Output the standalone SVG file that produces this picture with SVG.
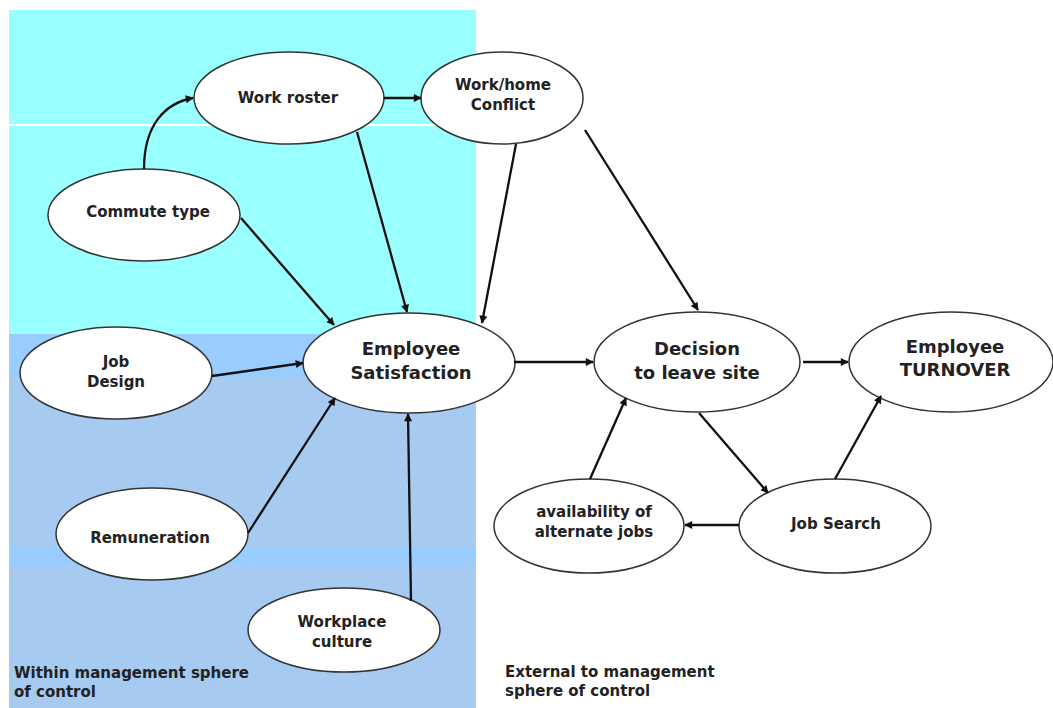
<svg xmlns="http://www.w3.org/2000/svg" width="1053" height="708" viewBox="0 0 1053 708">
<style>
.node ellipse{fill:#fff;stroke:#333;stroke-width:1.5}
.lbl{font-family:"DejaVu Sans",sans-serif;font-weight:bold;font-size:15px;fill:#222;text-anchor:middle}
.big{font-size:18px}
.note{font-family:"DejaVu Sans",sans-serif;font-weight:bold;font-size:15px;fill:#222}
#connectors path{fill:none;stroke:#111;stroke-width:2.3;marker-end:url(#arr)}
</style>
<defs>
<marker id="arr" viewBox="0 0 10 10" refX="9" refY="5" markerWidth="10" markerHeight="8" markerUnits="userSpaceOnUse" orient="auto">
<path d="M0,0 L10,5 L0,10 z" fill="#111"/>
</marker>
</defs>
<rect width="1053" height="708" fill="#fff"/>
<g id="background">
<rect x="9" y="10" width="467" height="324" fill="#99ffff"/>
<rect x="9" y="124" width="467" height="2" fill="#fff"/>
<rect x="9" y="334" width="467" height="374" fill="#a6caf0"/>
<rect x="9" y="334" width="467" height="43" fill="#99ccff"/>
<rect x="9" y="548" width="467" height="17" fill="#99ccff"/>
</g>
<g id="n-roster" class="node"><ellipse cx="289" cy="98" rx="95" ry="46"/><text class="lbl" x="288" y="103">Work roster</text></g>
<g id="n-conflict" class="node"><ellipse cx="502" cy="98" rx="81" ry="46"/><text class="lbl" x="503" y="90">Work/home</text><text class="lbl" x="503" y="110">Conflict</text></g>
<g id="n-commute" class="node"><ellipse cx="144" cy="215" rx="96" ry="46"/><text class="lbl" x="148" y="217">Commute type</text></g>
<g id="n-satisfaction" class="node"><ellipse cx="409" cy="363" rx="106" ry="50"/><text class="lbl big" x="411" y="355">Employee</text><text class="lbl big" x="411" y="379">Satisfaction</text></g>
<g id="n-jobdesign" class="node"><ellipse cx="116" cy="373" rx="96" ry="46"/><text class="lbl" x="116" y="367">Job</text><text class="lbl" x="116" y="387">Design</text></g>
<g id="n-remuneration" class="node"><ellipse cx="152" cy="534" rx="96" ry="46"/><text class="lbl" x="150" y="543">Remuneration</text></g>
<g id="n-culture" class="node"><ellipse cx="344" cy="630" rx="96" ry="42"/><text class="lbl" x="342" y="627">Workplace</text><text class="lbl" x="342" y="647">culture</text></g>
<g id="n-decision" class="node"><ellipse cx="697" cy="362" rx="103" ry="50"/><text class="lbl big" x="697" y="355">Decision</text><text class="lbl big" x="697" y="379">to leave site</text></g>
<g id="n-turnover" class="node"><ellipse cx="951" cy="362" rx="102" ry="50"/><text class="lbl big" x="955" y="353">Employee</text><text class="lbl big" x="955" y="376">TURNOVER</text></g>
<g id="n-availability" class="node"><ellipse cx="589" cy="526" rx="95" ry="47"/><text class="lbl" x="594" y="517">availability of</text><text class="lbl" x="594" y="537">alternate jobs</text></g>
<g id="n-jobsearch" class="node"><ellipse cx="835" cy="526" rx="96" ry="47"/><text class="lbl" x="836" y="529">Job Search</text></g>
<g id="connectors">
<path d="M144,169 C144,125 165,103 193,98"/>
<path d="M384,98 L421,98"/>
<path d="M357,132 L407,312"/>
<path d="M241,218 L334,325"/>
<path d="M516,144 L482,323"/>
<path d="M585,130 L698,310"/>
<path d="M212,376 L303,363"/>
<path d="M248,533 L335,398"/>
<path d="M411,601 L408,414"/>
<path d="M514,362 L593,362"/>
<path d="M803,362 L848,362"/>
<path d="M699,413 L768,493"/>
<path d="M590,479 L626,398"/>
<path d="M739,525 L685,525"/>
<path d="M835,479 L881,396"/>
</g>
<g id="notes">
<text class="note" x="14" y="678">Within management sphere</text>
<text class="note" x="14" y="697">of control</text>
<text class="note" x="505" y="677">External to management</text>
<text class="note" x="505" y="696">sphere of control</text>
</g>
</svg>
